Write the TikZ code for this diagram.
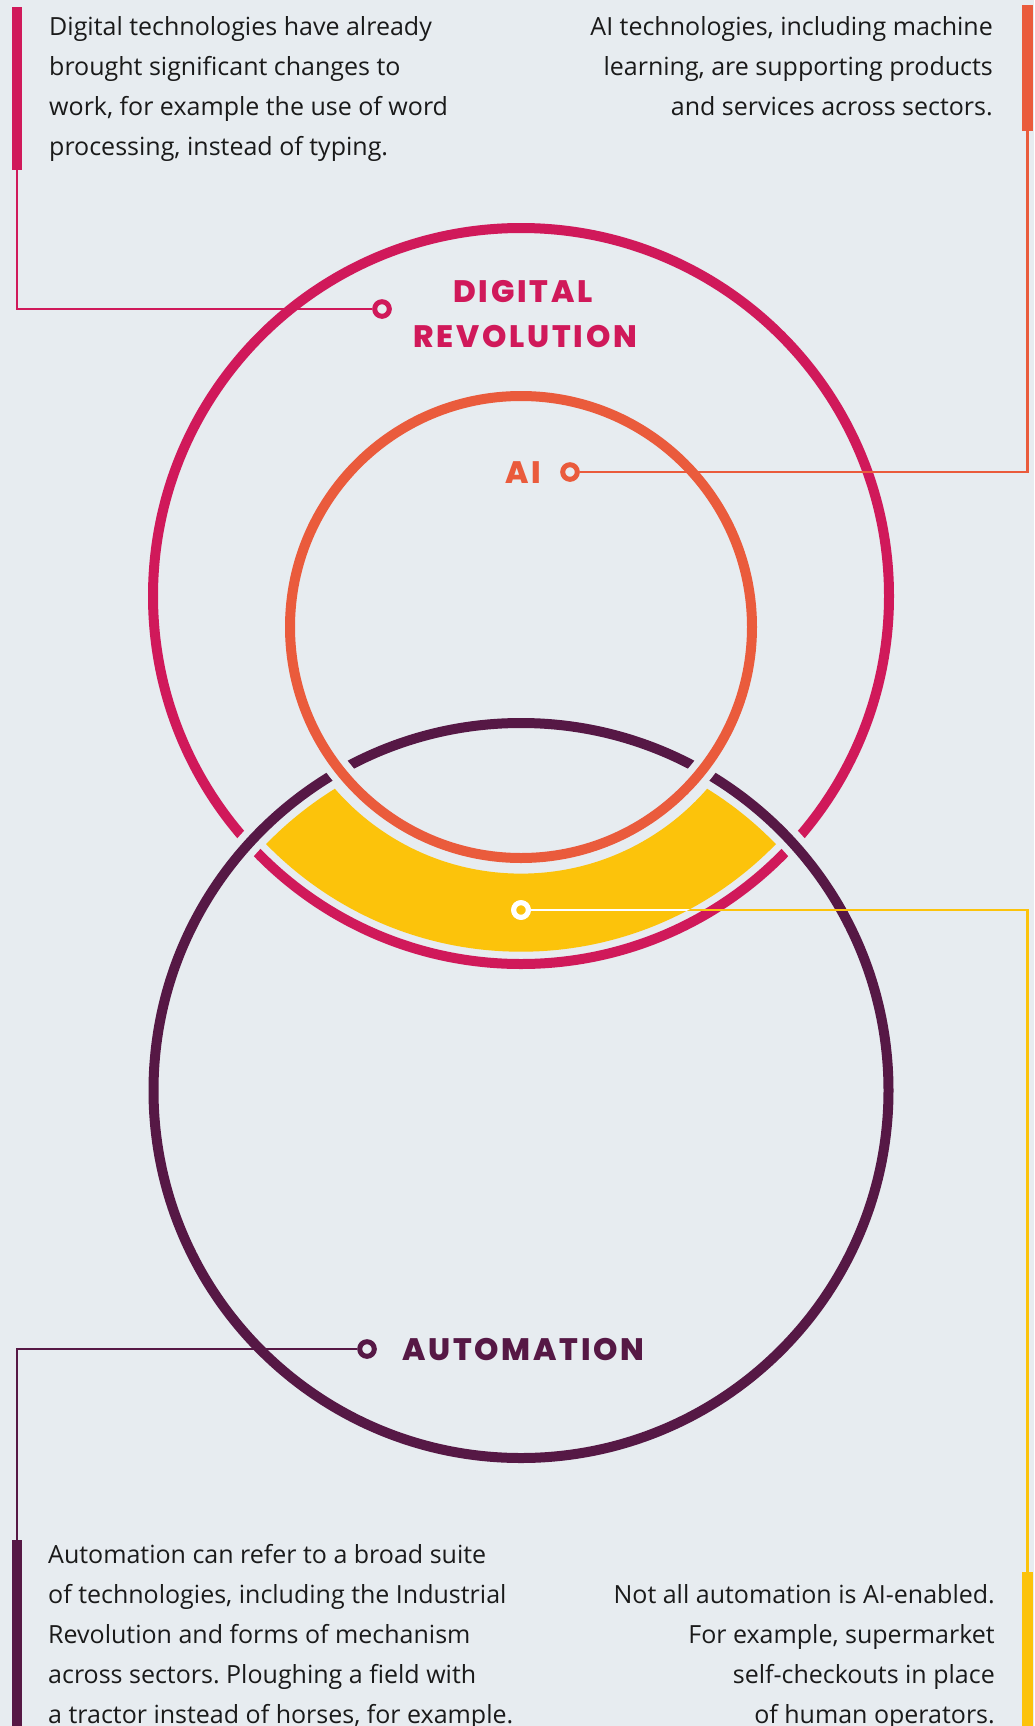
\documentclass[tikz,border=0pt]{standalone}
\usepackage{fontspec}
\setmainfont{Open Sans}
\newfontfamily\headfont{Poppins ExtraBold}[LetterSpace=9]
\definecolor{bgc}{HTML}{E7ECF0}
\definecolor{digc}{HTML}{D0195A}
\definecolor{aic}{HTML}{EA5B3C}
\definecolor{autc}{HTML}{561845}
\definecolor{ylc}{HTML}{FCC30B}
\definecolor{txt}{HTML}{1A1A1A}
\frenchspacing
\tikzset{
  body/.style={font=\fontsize{25}{40}\selectfont, text=txt, inner sep=0pt},
  head/.style={font=\headfont\fontsize{31}{40}\selectfont, inner sep=0pt},
  ring/.style={circle, draw=#1, line width=5pt, minimum size=14.6pt, inner sep=0pt, fill=bgc},
  bar/.style={fill=#1, minimum width=10.5pt, inner sep=0pt, outer sep=0pt},
  link/.style={draw=#1, line width=2.2pt},
  halo/.style={draw=bgc, line width=24pt},
  ringline/.style={draw=#1, line width=10pt}
}
\begin{document}
\begin{tikzpicture}[x=1pt, y=-1pt]
  \fill[bgc] (0,0) rectangle (1034,1726);
  \useasboundingbox (0,0) rectangle (1034,1726);

  % circle centres
  \coordinate (cD) at (521,596);
  \coordinate (cA) at (521,627);
  \coordinate (cM) at (521,1090.5);

  % yellow band: inside digital, inside automation, outside AI
  \begin{scope}
    \clip (cD) circle[radius=355.7pt];
    \clip (cM) circle[radius=354.5pt];
    \fill[ylc, even odd rule] (0,0) rectangle (1034,1726) (cA) circle[radius=246.6pt];
  \end{scope}

  % the three circles; halos open gaps where they cross
  \draw[ringline=digc] (cD) circle[radius=368pt];
  \draw[halo] (cM) circle[radius=367.5pt];
  \draw[ringline=autc] (cM) circle[radius=367.5pt];
  \draw[halo] (cA) circle[radius=231pt];
  \draw[ringline=aic] (cA) circle[radius=231pt];

  % side bars
  \node[bar=digc, minimum height=163pt, anchor=north] (dbar) at (17,7) {};
  \node[bar=aic, minimum height=126pt, anchor=north] (abar) at (1027.5,5) {};
  \node[bar=autc, minimum height=190pt, anchor=north] (mbar) at (17,1540) {};
  \node[bar=ylc, minimum height=160pt, anchor=north] (ybar) at (1027.5,1572) {};

  % label dots
  \node[ring=digc] (ddot) at (382,309) {};
  \node[ring=aic] (adot) at (570,472) {};
  \node[ring=autc] (mdot) at (367,1349) {};
  \node[ring=white, fill=ylc] (ydot) at (521,910) {};

  % connectors
  \draw[link=digc] (ddot) -| (dbar.south);
  \draw[link=aic] (adot) -| (abar.south);
  \draw[link=autc] (mdot) -| (mbar.north);
  \draw[link=ylc] (ydot) -| (ybar.north);
  \begin{scope}
    \clip (cD) circle[radius=355.7pt];
    \clip (cM) circle[radius=354.5pt];
    \draw[link=white] (ydot) -- (ydot -| ybar.north);
  \end{scope}
  \node[ring=white, fill=ylc] at (ydot) {};

  % headings
  \node[head, text=digc, anchor=base] (hd1) at (523,302) {DIGITAL};
  \node[head, text=digc, anchor=base] (hd2) at (525,347) {REVOLUTION};
  \node[head, text=aic, anchor=base east] (hai) at (541,483) {AI};
  \node[head, text=autc, anchor=base west] (hau) at (402,1360) {AUTOMATION};

  % top left text
  \node[body, anchor=base west] (t1) at (49,36) {Digital technologies have already};
  \node[body, anchor=base west] (t2) at (49,76) {brought significant changes to};
  \node[body, anchor=base west] (t3) at (49,116) {work, for example the use of word};
  \node[body, anchor=base west] (t4) at (49,156) {processing, instead of typing.};

  % top right text
  \node[body, anchor=base east] (r1) at (993,36) {AI technologies, including machine};
  \node[body, anchor=base east] (r2) at (993,76) {learning, are supporting products};
  \node[body, anchor=base east] (r3) at (993,116) {and services across sectors.};

  % bottom left text
  \node[body, anchor=base west] (b1) at (48,1563) {Automation can refer to a broad suite};
  \node[body, anchor=base west] (b2) at (48,1603) {of technologies, including the Industrial};
  \node[body, anchor=base west] (b3) at (48,1643) {Revolution and forms of mechanism};
  \node[body, anchor=base west] (b4) at (48,1683) {across sectors. Ploughing a field with};
  \node[body, anchor=base west] (b5) at (48,1723) {a tractor instead of horses, for example.};

  % bottom right text
  \node[body, anchor=base east] (s1) at (995,1603) {Not all automation is AI-enabled.};
  \node[body, anchor=base east] (s2) at (995,1643) {For example, supermarket};
  \node[body, anchor=base east] (s3) at (995,1683) {self-checkouts in place};
  \node[body, anchor=base east] (s4) at (995,1723) {of human operators.};
\end{tikzpicture}
\end{document}
